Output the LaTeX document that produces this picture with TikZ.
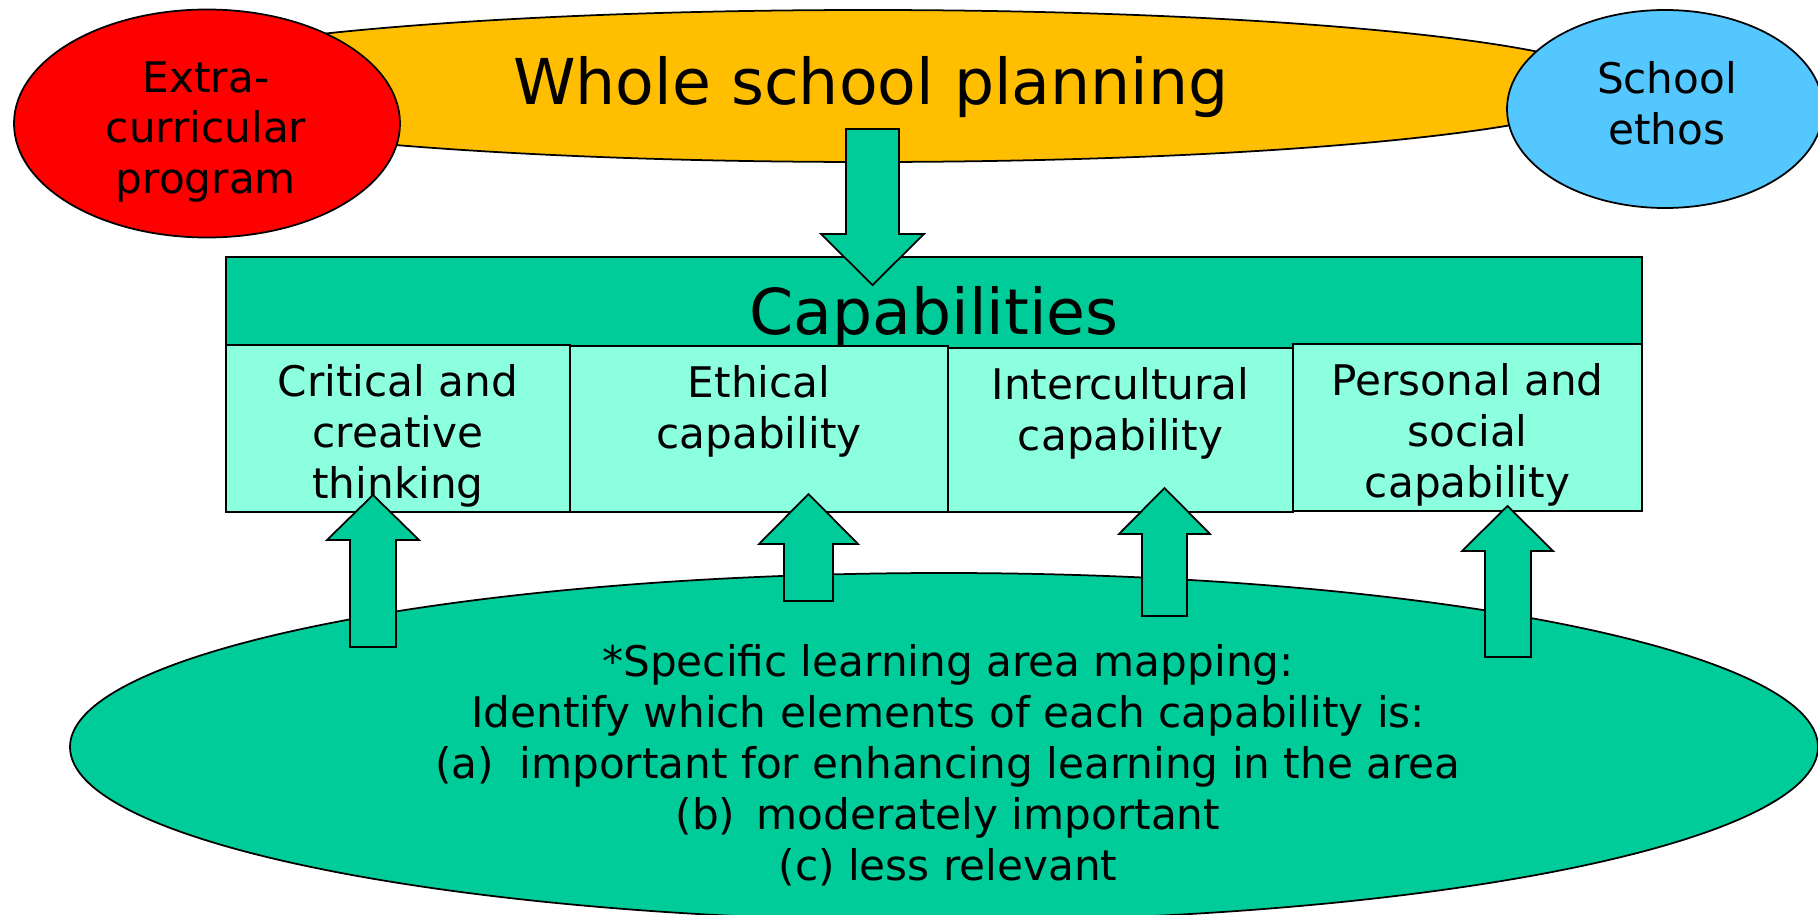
\documentclass[tikz,border=0pt]{standalone}
\usepackage{fontspec}
\setmainfont{DejaVu Sans}
\usepackage{tikz}
\usetikzlibrary{shapes.geometric,positioning}
\definecolor{planyellow}{rgb}{1,0.75,0}
\definecolor{extrared}{rgb}{1,0,0}
\definecolor{ethosblue}{rgb}{0.33,0.78,1}
\definecolor{capgreen}{rgb}{0,0.8,0.6}
\definecolor{cellaqua}{rgb}{0.55,1,0.87}
\tikzset{blob/.style = {shape=ellipse,draw,inner sep=0pt,line width=0.5pt}}
\tikzset{cell/.style = {shape=rectangle,draw,fill=cellaqua,inner sep=0pt,line width=0.6pt}}
\tikzset{celltext/.style = {align=center,inner sep=0pt,font=\fontsize{12}{14.5}\selectfont}}
\tikzset{bigtext/.style = {font=\fontsize{18}{22}\selectfont}}
\tikzset{blockarrow/.style = {draw,fill=capgreen,line width=0.5pt,line join=miter}}

\begin{document}
\begin{tikzpicture}
\path[use as bounding box,clip] (0,0) rectangle (18.18,-9.15);
% ellipses
\node[blob, fill=planyellow, minimum width=15cm, minimum height=1.52cm] (plan) at (8.68,-0.86) {};
\node[blob, fill=extrared, minimum width=3.86cm, minimum height=2.28cm] (extra) at (2.07,-1.235) {};
\node[blob, fill=ethosblue, minimum width=3.16cm, minimum height=1.98cm] (ethos) at (16.65,-1.09) {};
\node[blob, fill=capgreen, minimum width=17.48cm, minimum height=3.48cm] (mapping) at (9.44,-7.47) {};
\node[bigtext] (plan-txt) at (8.71,-0.87) {Whole school planning};
\node[celltext] (extra-txt) at (2.06,-1.32) {Extra-\\curricular\\program};
\node[celltext] (ethos-txt) at (16.67,-1.03) {School\\ethos};
\node[celltext] (mapping-txt) at (9.48,-7.65) {*Specific learning area mapping:\\Identify which elements of each capability is:\\(a)\hspace{0.6em}important for enhancing learning in the area\\(b)\hspace{0.5em}moderately important\\(c) less relevant};
% capabilities
\node[cell, fill=capgreen, line width=0.8pt, minimum width=14.16cm, minimum height=1.2cm, bigtext] (cap) at (9.34,-3.17) {Capabilities};
\node[cell, minimum width=3.44cm, minimum height=1.67cm] (crit) at (3.98,-4.285) {};
\node[cell, minimum width=3.78cm, minimum height=1.66cm] (eth) at (7.59,-4.29) {};
\node[cell, minimum width=3.45cm, minimum height=1.64cm] (inter) at (11.205,-4.30) {};
\node[cell, minimum width=3.49cm, minimum height=1.67cm] (pers) at (14.675,-4.275) {};
\node[celltext, below=0.2cm of crit.north] (crit-txt) {Critical and\\creative\\thinking};
\node[celltext, below=0.2cm of eth.north] (eth-txt) {Ethical\\capability};
\node[celltext, below=0.2cm of inter.north] (inter-txt) {Intercultural\\capability};
\node[celltext, below=0.2cm of pers.north] (pers-txt) {Personal and\\social\\capability};
% arrows
\draw[blockarrow] (8.46,-1.29) -- (8.46,-2.34) -- (8.21,-2.34) -- (8.725,-2.85) -- (9.24,-2.34) -- (8.99,-2.34) -- (8.99,-1.29) -- cycle;
\draw[blockarrow] (3.50,-6.47) -- (3.50,-5.40) -- (3.27,-5.40) -- (3.73,-4.95) -- (4.19,-5.40) -- (3.96,-5.40) -- (3.96,-6.47) -- cycle;
\draw[blockarrow] (7.84,-6.01) -- (7.84,-5.44) -- (7.59,-5.44) -- (8.085,-4.94) -- (8.58,-5.44) -- (8.33,-5.44) -- (8.33,-6.01) -- cycle;
\draw[blockarrow] (11.42,-6.16) -- (11.42,-5.34) -- (11.19,-5.34) -- (11.645,-4.88) -- (12.10,-5.34) -- (11.87,-5.34) -- (11.87,-6.16) -- cycle;
\draw[blockarrow] (14.85,-6.57) -- (14.85,-5.51) -- (14.62,-5.51) -- (15.075,-5.06) -- (15.53,-5.51) -- (15.31,-5.51) -- (15.31,-6.57) -- cycle;
\end{tikzpicture}
\end{document}
